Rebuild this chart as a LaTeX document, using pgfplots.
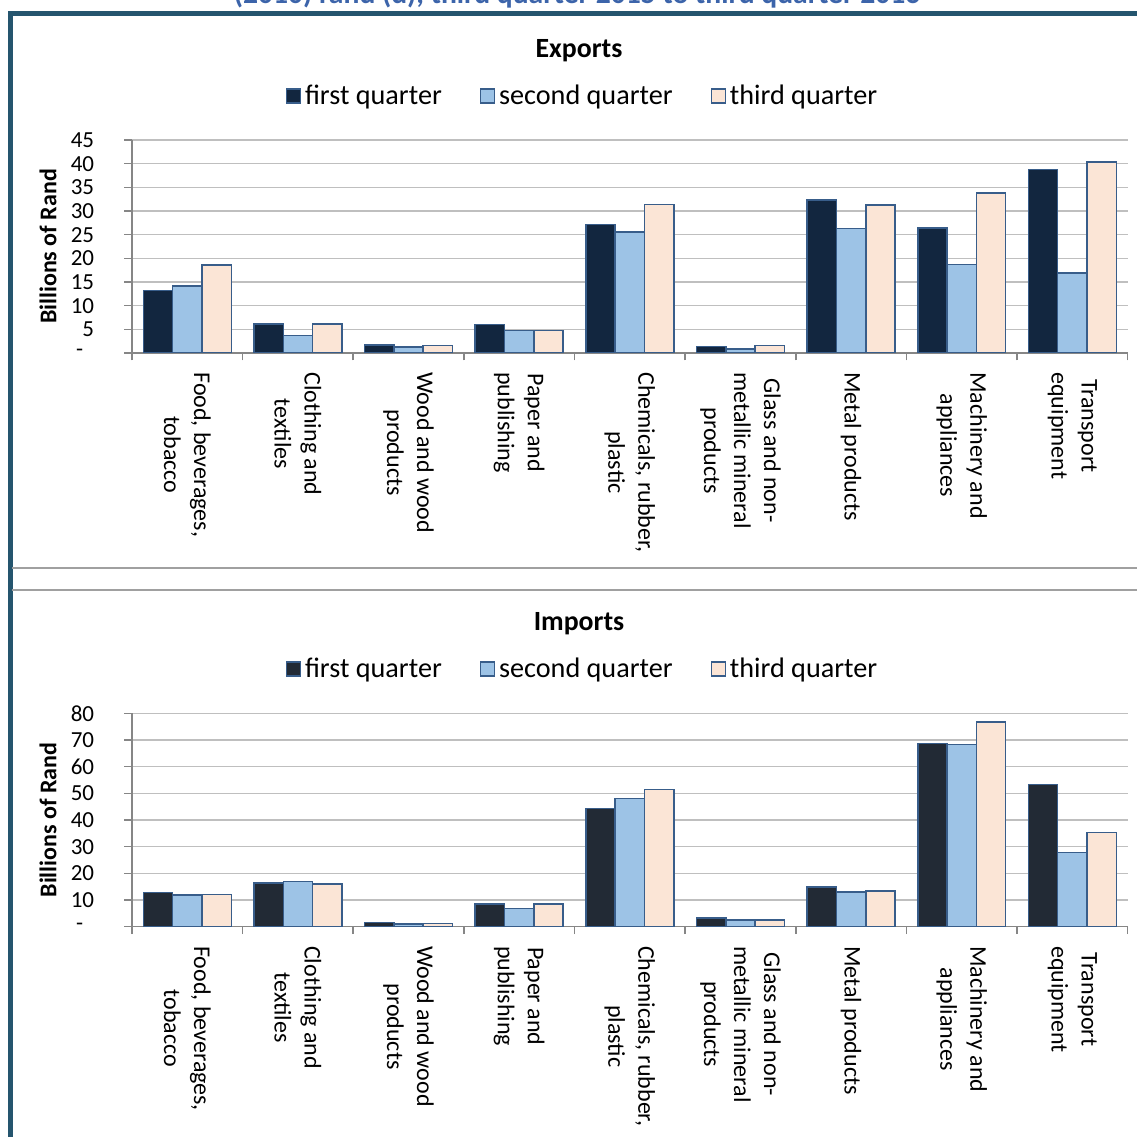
\documentclass[border=0pt]{standalone}
\usepackage{pgfplots}
\pgfplotsset{compat=1.18}
\usepackage{fontspec}
\setmainfont{Carlito}

\definecolor{qone}{RGB}{18,38,63}
\definecolor{qoneimp}{RGB}{34,42,53}
\definecolor{qtwo}{RGB}{157,195,230}
\definecolor{qthree}{RGB}{251,229,214}
\definecolor{barline}{RGB}{56,93,138}
\definecolor{gridc}{RGB}{191,191,191}
\definecolor{axisc}{RGB}{134,134,134}
\definecolor{framec}{RGB}{37,85,110}
\definecolor{titlec}{RGB}{60,100,170}
\definecolor{panelc}{RGB}{160,160,160}

\newcommand{\zl}{-\rule{5.5pt}{0pt}}

\pgfplotsset{
  mybars/.style={
    scale only axis, width=497.85pt, anchor=south west,
    ybar, bar width=0.265,
    xmin=-0.5, xmax=8.5, ymin=0,
    axis x line*=bottom, axis y line*=left,
    axis line style={-, draw=axisc, line width=0.8pt},
    tick align=outside,
    major tick length=3.75pt,
    tick style={draw=axisc, line width=0.8pt},
    xtick={-0.5,0.5,...,8.5},
    xticklabels={},
    extra x ticks={0,1,2,3,4,5,6,7,8},
    extra x tick style={major tick length=0pt},
    extra x tick labels={{Food, beverages,\\tobacco},{Clothing and\\textiles},{Wood and wood\\products},{Paper and\\publishing},{Chemicals, rubber,\\plastic},{Glass and non-\\metallic mineral\\products},{Metal products},{Machinery and\\appliances},{Transport\\equipment}},
    xticklabel style={rotate=-90, anchor=west, align=center, inner sep=0pt,
      font=\fontsize{12}{15}\selectfont},
    xticklabel shift=9.5pt,
    yticklabel style={anchor=east, inner sep=0pt,
      font=\fontsize{11.5}{13}\selectfont},
    yticklabel shift=15pt,
    ymajorgrids=true,
    grid style={draw=gridc, line width=0.75pt},
    legend columns=3,
    legend style={draw=none, fill=none, anchor=center,
      font=\fontsize{14.1}{16}\selectfont,
      /tikz/every even column/.append style={column sep=17pt}},
    legend image code/.code={\draw[#1, line width=0.6pt] (-1.5pt,-3.5pt) rectangle (5.5pt,3.5pt);},
    legend cell align=left,
  }
}

\begin{document}
\begin{tikzpicture}
\path[use as bounding box, clip] (0pt,0pt) rectangle (568.5pt,568.5pt);
\begin{scope}[x=0.5pt, y=0.5pt]
\fill[white] (0,0) rectangle (1137,1137);
% cut-off report title
\node[anchor=base, text=titlec, font=\bfseries\fontsize{14.8}{17}\selectfont] at (577,1133)
  {(2010) rand (d), third quarter 2015 to third quarter 2016};
% frame
\draw[framec, line width=2.5pt] (10,0) -- (10,1123) -- (1140,1123);
\draw[panelc, line width=0.75pt] (12,569) -- (1140,569);
\draw[panelc, line width=0.75pt] (12,547) -- (1140,547);
% titles
\node[font=\bfseries\fontsize{13.9}{16}\selectfont] at (579,1086) {Exports};
\node[font=\bfseries\fontsize{13.9}{16}\selectfont] at (579,513) {Imports};
% y axis titles
\node[rotate=90, font=\bfseries\fontsize{12}{14}\selectfont] at (48,890.5) {Billions of Rand};
\node[rotate=90, font=\bfseries\fontsize{12}{14}\selectfont] at (48,317) {Billions of Rand};
\end{scope}

\begin{axis}[mybars, at={(66pt,392pt)}, height=106.5pt,
  ymax=45, ytick={0,5,10,15,20,25,30,35,40,45},
  yticklabels={\zl,5,10,15,20,25,30,35,40,45},
  legend style={at={(rel axis cs:0.4535,1.2066)}}]
\addplot[fill=qone, draw=barline, line width=0.75pt, bar shift=-0.265] coordinates
  {(0,13.2) (1,6.1) (2,1.7) (3,6.0) (4,27.2) (5,1.4) (6,32.3) (7,26.4) (8,38.8)};
\addplot[fill=qtwo, draw=barline, line width=0.75pt, bar shift=0] coordinates
  {(0,14.2) (1,3.7) (2,1.3) (3,4.8) (4,25.6) (5,0.8) (6,26.3) (7,18.7) (8,16.9)};
\addplot[fill=qthree, draw=barline, line width=0.75pt, bar shift=0.265] coordinates
  {(0,18.6) (1,6.1) (2,1.6) (3,4.8) (4,31.4) (5,1.6) (6,31.3) (7,33.8) (8,40.4)};
\legend{first quarter, second quarter, third quarter}
\end{axis}

\begin{axis}[mybars, at={(66pt,105.15pt)}, height=106.7pt,
  ymax=80, ytick={0,10,20,30,40,50,60,70,80},
  yticklabels={\zl,10,20,30,40,50,60,70,80},
  legend style={at={(rel axis cs:0.4535,1.2076)}}]
\addplot[fill=qoneimp, draw=barline, line width=0.75pt, bar shift=-0.265] coordinates
  {(0,12.75) (1,16.4) (2,1.5) (3,8.5) (4,44.4) (5,3.25) (6,14.9) (7,68.6) (8,53.3)};
\addplot[fill=qtwo, draw=barline, line width=0.75pt, bar shift=0] coordinates
  {(0,11.9) (1,16.9) (2,1.0) (3,6.75) (4,48.1) (5,2.6) (6,13.1) (7,68.4) (8,27.8)};
\addplot[fill=qthree, draw=barline, line width=0.75pt, bar shift=0.265] coordinates
  {(0,12.1) (1,16.1) (2,1.25) (3,8.6) (4,51.5) (5,2.6) (6,13.4) (7,76.8) (8,35.3)};
\legend{first quarter, second quarter, third quarter}
\end{axis}
\end{tikzpicture}
\end{document}
